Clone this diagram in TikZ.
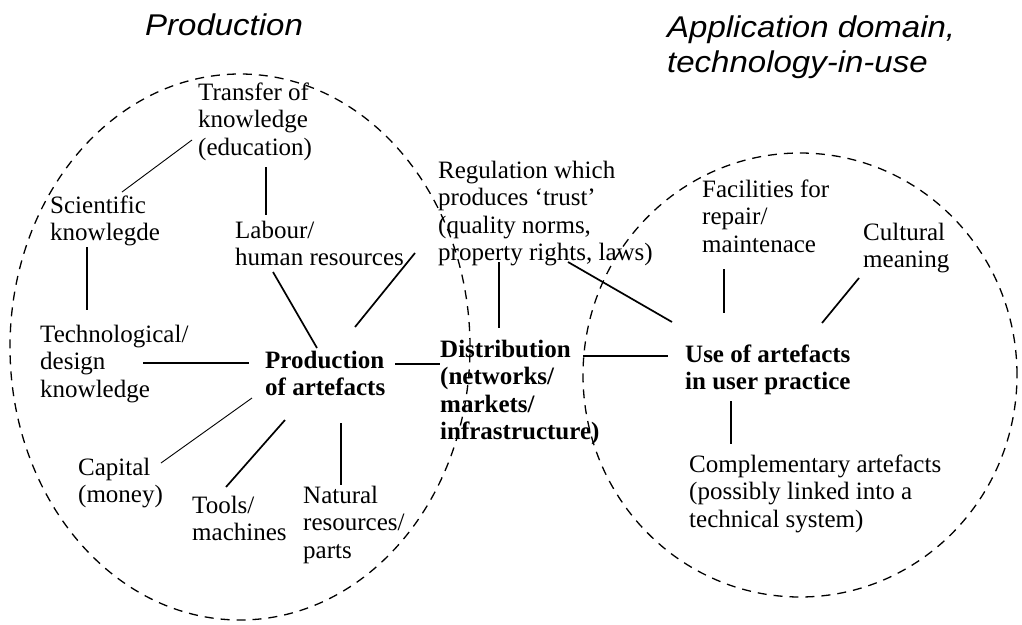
\documentclass[tikz,border=0pt]{standalone}
\usepackage{fontspec}
\usepackage{graphicx}
\setmainfont{Liberation Serif}
\newfontfamily\titlefont{Liberation Sans}
% left-aligned block of lines whose baseline is that of its first line
\newcommand\txtlines[1]{\begin{tabular}[t]{@{}l@{}}#1\end{tabular}}

\begin{document}
\begin{tikzpicture}[x=1pt,y=-1pt,
  lbl/.style={anchor=base west, inner sep=0pt, font=\fontsize{25}{27.5}\selectfont},
  key/.style={anchor=base west, inner sep=0pt, font=\fontsize{25}{27.5}\selectfont\bfseries},
  heading/.style={anchor=base west, inner sep=0pt, font=\fontsize{30}{35}\selectfont\titlefont\itshape},
  region/.style={draw, line width=1.3pt, dash pattern=on 9pt off 7pt},
  link/.style={line width=1.7pt},
  thinlink/.style={line width=0.9pt}]

\useasboundingbox (0,0) rectangle (1022,624);
\fill[white] (0,0) rectangle (1022,624);

% the two domains
\draw[region] (240,347) ellipse [x radius=230pt, y radius=273pt];
\draw[region] (800,375) ellipse [x radius=217pt, y radius=222pt];

% headings
\node[heading] (hprod) at (145,35) {\scalebox{1.1}[1]{Production}};
\node[heading] (happ) at (667,37) {\scalebox{1.1}[1]{\txtlines{Application domain,\\technology-in-use}}};

% production side
\node[lbl] (transfer) at (198,100) {\txtlines{Transfer of\\knowledge\\(education)}};
\node[lbl] (scientific) at (50,213) {\txtlines{Scientific\\knowlegde}};
\node[lbl] (labour) at (235,238) {\txtlines{Labour/\\human resources}};
\node[lbl] (technological) at (40,342) {\txtlines{Technological/\\design\\knowledge}};
\node[key] (production) at (265,368) {\txtlines{Production\\of artefacts}};
\node[lbl] (capital) at (78,475) {\txtlines{Capital\\(money)}};
\node[lbl] (tools) at (192,513) {\txtlines{Tools/\\machines}};
\node[lbl] (natural) at (303,503) {\txtlines{Natural\\resources/\\parts}};

% between the domains
\node[lbl] (regulation) at (438,178) {\txtlines{Regulation which\\produces ‘trust’\\(quality norms,\\property rights, laws)}};
\node[key] (distribution) at (440,357) {\txtlines{Distribution\\(networks/\\markets/\\infrastructure)}};

% use side
\node[key] (use) at (685,362) {\txtlines{Use of artefacts\\in user practice}};
\node[lbl] (facilities) at (702,197) {\txtlines{Facilities for\\repair/\\maintenace}};
\node[lbl] (cultural) at (863,240) {\txtlines{Cultural\\meaning}};
\node[lbl] (complementary) at (689,472) {\txtlines{Complementary artefacts\\(possibly linked into a\\technical system)}};

% connector end points next to each label
\coordinate (transfer-sw) at (192,140);
\coordinate (scientific-ne) at (122,192);
\coordinate (transfer-s) at (266,167);
\coordinate (labour-n) at (266,215);
\coordinate (scientific-s) at (87,247);
\coordinate (technological-n) at (87,310);
\coordinate (labour-s) at (273,272);
\coordinate (production-nw) at (317,348);
\coordinate (regulation-sw) at (415,253);
\coordinate (production-ne) at (355,327);
\coordinate (technological-e) at (143,363);
\coordinate (production-w) at (249,363);
\coordinate (production-e) at (395,364);
\coordinate (distribution-w) at (440,364);
\coordinate (regulation-s) at (499,262);
\coordinate (distribution-n) at (499,328);
\coordinate (regulation-se) at (568,262);
\coordinate (use-nw) at (672,322);
\coordinate (distribution-e) at (583,356);
\coordinate (use-w) at (668,356);
\coordinate (facilities-s) at (724,269);
\coordinate (use-n) at (724,313);
\coordinate (cultural-sw) at (859,278);
\coordinate (use-ne) at (822,323);
\coordinate (use-s) at (731,401);
\coordinate (complementary-n) at (731,444);
\coordinate (capital-ne) at (161,463);
\coordinate (production-sw) at (252,398);
\coordinate (tools-ne) at (226,487);
\coordinate (production-s) at (285,420);
\coordinate (natural-n) at (341,485);
\coordinate (production-se) at (341,423);

% connectors
\draw[thinlink] (transfer-sw) -- (scientific-ne);
\draw[link] (transfer-s) -- (labour-n);
\draw[line width=1.3pt] (scientific-s) -- (technological-n);
\draw[link] (labour-s) -- (production-nw);
\draw[link] (regulation-sw) -- (production-ne);
\draw[link] (technological-e) -- (production-w);
\draw[link] (production-e) -- (distribution-w);
\draw[link] (regulation-s) -- (distribution-n);
\draw[link] (regulation-se) -- (use-nw);
\draw[link] (distribution-e) -- (use-w);
\draw[link] (facilities-s) -- (use-n);
\draw[link] (cultural-sw) -- (use-ne);
\draw[line width=1.2pt] (use-s) -- (complementary-n);
\draw[thinlink] (capital-ne) -- (production-sw);
\draw[link] (tools-ne) -- (production-s);
\draw[line width=1.3pt] (production-se) -- (natural-n);
\end{tikzpicture}
\end{document}
